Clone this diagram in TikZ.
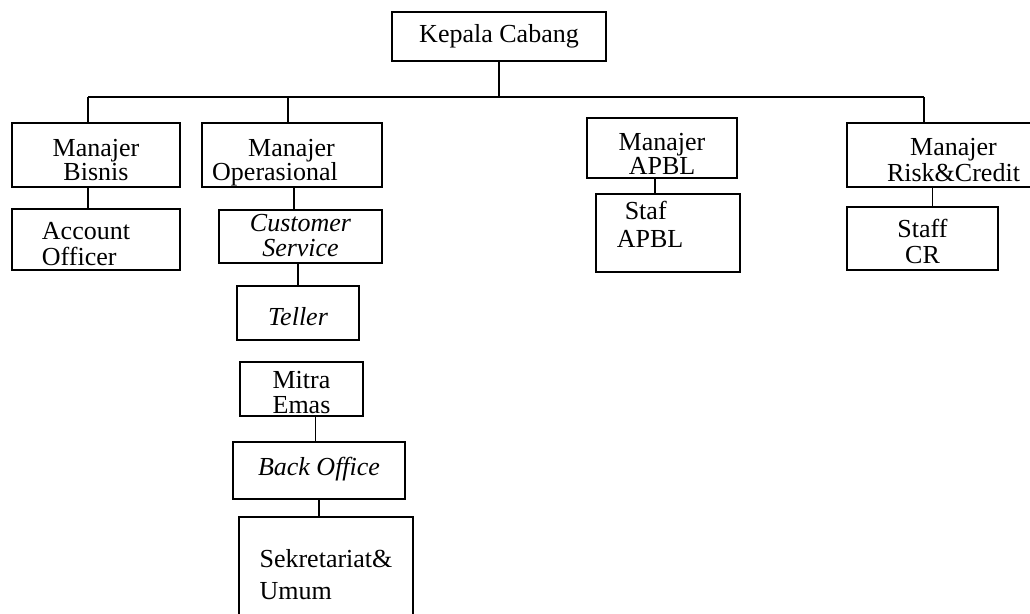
\documentclass[tikz,border=0pt]{standalone}
\usepackage{fontspec}
\setmainfont{Liberation Serif}
\begin{document}
\begin{tikzpicture}[x=1pt,y=-1pt,
		box/.style={draw,line width=2.3pt,inner sep=0pt,align=center,text depth=0pt,font=\fontsize{26}{26}\selectfont},
		bar/.style={line width=2.3pt},
		link/.style={line width=1.4pt}]
		\useasboundingbox (0,0) rectangle (1030,613);
		\node[box,text depth=,minimum width=214,minimum height=49] (kepala) at (499,36.5) {Kepala Cabang};
		\node[box,text height=50,minimum width=168,minimum height=64] (bisnis) at (96,155) {Manajer\\[-2pt]Bisnis};
		\node[box,text height=50,align=left,minimum width=180,minimum height=64] (ops) at (292,155) {\hspace*{36pt}Manajer\\[-2pt]Operasional\hspace*{34pt}};
		\node[box,text height=52,minimum width=150,minimum height=60] (apbl) at (662,148) {Manajer\\[-2pt]APBL};
		\node[box,text height=52,minimum width=213,minimum height=64] (risk) at (953.5,155) {Manajer\\Risk\&Credit};
		\node[box,text height=51,align=left,minimum width=168,minimum height=61] (ao) at (96,239.5) {Account\hspace*{20pt}\\Officer};
		\node[box,text height=39,minimum width=163,minimum height=53] (cs) at (300.5,236.5) {\itshape Customer\\[-1pt]\itshape Service};
		\node[box,text height=28,align=left,minimum width=144,minimum height=78] (stafapbl) at (668,233) {\hspace*{8pt}Staf\\[2pt]APBL\hspace*{36pt}};
		\node[box,text height=49,minimum width=151,minimum height=63] (staffcr) at (922.5,238.5) {Staff\\CR};
		\node[box,text height=24,minimum width=122,minimum height=54] (teller) at (298,313) {\itshape Teller};
		\node[box,text height=48,minimum width=123,minimum height=54] (mitra) at (301.5,389) {Mitra\\[-1pt]Emas};
		\node[box,text height=9,minimum width=172,minimum height=57] (back) at (319,470.5) {\itshape Back Office};
		\node[box,text height=41,align=left,minimum width=174,minimum height=123] (sekr) at (326,578.5) {Sekretariat\&\\[6pt]Umum};
		\coordinate (barL) at (88,97);
		\coordinate (barO) at (288,97);
		\coordinate (barR) at (924,97);
		\draw[bar] (barL) -- (barR);
		\draw[bar] (kepala.south) -- (kepala.south |- barL);
		\draw[bar] (barL) -- (barL |- bisnis.north);
		\draw[bar] (barO) -- (barO |- ops.north);
		\draw[bar] (barR) -- (barR |- risk.north);
		\draw[link] (barL |- bisnis.south) -- (barL |- ao.north);
		\draw[link] ([xshift=2]ops.south) -- ([xshift=2]ops.south |- cs.north);
		\draw[link] (cs.south -| teller.north) -- (teller.north);
		\draw[link] ([xshift=14]mitra.south) -- ([xshift=14]mitra.south |- back.north);
		\draw[link] (back.south) -- (back.south |- sekr.north);
		\draw[link] ([xshift=-7]apbl.south) -- ([xshift=-7]apbl.south |- stafapbl.north);
		\draw[link] ([xshift=10]staffcr.north) -- ([xshift=10]staffcr.north |- risk.south);
	\end{tikzpicture}
\end{document}
